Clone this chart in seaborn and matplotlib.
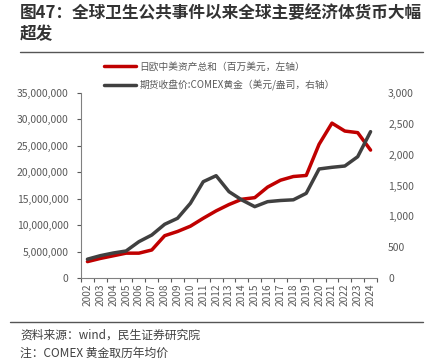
import matplotlib
matplotlib.use("Agg")
import matplotlib.pyplot as plt
import matplotlib.ticker as mticker
from matplotlib.lines import Line2D
import pandas as pd
import seaborn as sns

years = list(range(2002, 2025))
# 日欧中美资产总和 (百万美元)
assets = [3.1e6, 3.7e6, 4.2e6, 4.7e6, 4.7e6, 5.3e6, 8.0e6, 8.8e6, 9.8e6, 11.3e6,
          12.7e6, 13.9e6, 14.9e6, 15.2e6, 17.2e6, 18.5e6, 19.2e6, 19.4e6,
          25.3e6, 29.3e6, 27.8e6, 27.5e6, 24.2e6]
# COMEX 黄金 (美元/盎司)
gold = [305, 362, 405, 438, 589, 697, 871, 968, 1211, 1562, 1659, 1400, 1265,
        1157, 1238, 1257, 1268, 1373, 1768, 1795, 1816, 1967, 2373]

label_assets = "日欧中美资产总和（百万美元，左轴）"
label_gold = "期货收盘价:COMEX黄金（美元/盎司，右轴）"
title = "图47：全球卫生公共事件以来全球主要经济体货币大幅\n超发"
source = "资料来源：wind，民生证券研究院"
note = "注：COMEX 黄金取历年均价"

df = pd.DataFrame({"year": years, "assets": assets, "gold": gold})

sns.set_style("white")
plt.rcParams["font.family"] = ["Noto Sans CJK SC", "DejaVu Sans"]

red = "#C00000"
dark = "#404040"
tick_col = "#595959"

fig = plt.figure(figsize=(4.32, 3.61), dpi=100)
ax = fig.add_axes([81 / 432, 1 - 278 / 361, (377 - 81) / 432, (278 - 93) / 361])
ax2 = ax.twinx()

sns.lineplot(data=df, x="year", y="assets", ax=ax, color=red, linewidth=2.5)
sns.lineplot(data=df, x="year", y="gold", ax=ax2, color=dark, linewidth=2.5)

ax.set_ylim(0, 35e6)
ax.set_yticks(range(0, 35000001, 5000000))
ax.yaxis.set_major_formatter(mticker.FuncFormatter(lambda v, p: f"{int(v):,}"))
ax2.set_ylim(0, 3000)
ax2.set_yticks(range(0, 3001, 500))
ax2.yaxis.set_major_formatter(mticker.FuncFormatter(lambda v, p: f"{int(v):,}"))

ax.set_xlim(2001.5, 2024.5)
ax.set_xticks(years)
ax.set_xticklabels([str(y) for y in years], rotation=90)
ax.set_xticks([y + 0.5 for y in range(2001, 2025)], minor=True)
ax.tick_params(axis="x", which="major", length=0, pad=4, labelsize=7.3, colors=tick_col)
ax.tick_params(axis="x", which="minor", length=3, width=0.8, color=tick_col, direction="out", bottom=True)
ax.tick_params(axis="y", length=3, width=0.8, colors=tick_col, labelsize=7.5, left=True,
               direction="out", pad=6)
ax2.tick_params(axis="y", length=0, colors=tick_col, labelsize=7.5, pad=8)

for a in (ax, ax2):
    a.set_xlabel("")
    a.set_ylabel("")
    for s in a.spines.values():
        s.set_visible(False)
ax.spines["left"].set_visible(True)
ax.spines["bottom"].set_visible(True)
ax.spines["left"].set_color("#808080")
ax.spines["bottom"].set_color("#808080")

handles = [Line2D([], [], color=red, linewidth=2.5),
           Line2D([], [], color=dark, linewidth=2.5)]
fig.legend(handles, [label_assets, label_gold], loc="upper left",
           bbox_to_anchor=(100 / 432, 1 - 58 / 361), frameon=False,
           fontsize=7, handlelength=3.3, handletextpad=0.35,
           labelspacing=0.85, labelcolor=tick_col, borderaxespad=0)

fig.text(20 / 432, 1 - 4 / 361, title, ha="left", va="top", fontsize=12,
         fontweight="bold", color="#333333", linespacing=1.2)
fig.add_artist(Line2D([20 / 432, 423 / 432], [1 - 52 / 361] * 2, color="#555555", linewidth=1))
fig.add_artist(Line2D([10 / 432, 423 / 432], [1 - 322 / 361] * 2, color="#555555", linewidth=1))
fig.text(20 / 432, 1 - 335 / 361, source, ha="left", va="center", fontsize=8.5, color="#404040")
fig.text(20 / 432, 1 - 353 / 361, note, ha="left", va="center", fontsize=8.5, color="#404040")

fig.savefig("out.png", dpi=100)
